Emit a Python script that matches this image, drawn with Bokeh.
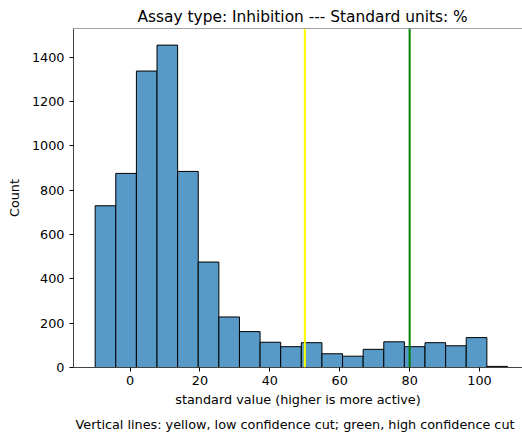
from bokeh.plotting import figure
from bokeh.models import Span, Title, FixedTicker, ColumnDataSource, Range1d
from bokeh.embed import file_html
from bokeh.resources import INLINE

# ---- data ----
bin_left = [-10.0, -4.1, 1.8, 7.7, 13.6, 19.5, 25.4, 31.3, 37.2, 43.1,
            49.0, 54.9, 60.8, 66.7, 72.6, 78.5, 84.4, 90.3, 96.2, 102.1]
bin_right = [-4.1, 1.8, 7.7, 13.6, 19.5, 25.4, 31.3, 37.2, 43.1, 49.0,
             54.9, 60.8, 66.7, 72.6, 78.5, 84.4, 90.3, 96.2, 102.1, 108.0]
counts = [730, 876, 1338, 1455, 885, 476, 228, 162, 114, 94,
          112, 62, 51, 82, 116, 94, 112, 98, 135, 5]
low_cut = 50
high_cut = 80
x_ticks = [0, 20, 40, 60, 80, 100]
y_ticks = [0, 200, 400, 600, 800, 1000, 1200, 1400]

title_text = "Assay type: Inhibition --- Standard units: %"
x_label = "standard value (higher is more active)"
y_label = "Count"
footnote = "Vertical lines: yellow, low confidence cut; green, high confidence cut"

FONT = "DejaVu Sans"
X_START, X_END = -16.2, 112.3
Y_END = 1530

p = figure(width=522, height=437, output_backend="svg", toolbar_location=None,
           x_range=Range1d(X_START, X_END), y_range=Range1d(0, Y_END),
           min_border_left=73, min_border_right=0, min_border_top=28,
           min_border_bottom=70)

src = ColumnDataSource(dict(left=bin_left, right=bin_right, top=counts,
                            bottom=[0] * len(counts)))
p.quad(left="left", right="right", top="top", bottom="bottom", source=src,
       fill_color="#5799c7", line_color="black", line_width=1)

p.add_layout(Span(location=low_cut, dimension="height", line_color="yellow", line_width=2))
p.add_layout(Span(location=high_cut, dimension="height", line_color="green", line_width=2))
p.add_layout(Span(location=Y_END, dimension="width", line_color="#444444", line_width=1))

p.grid.visible = False
p.outline_line_color = None
p.background_fill_color = "white"
p.border_fill_color = "white"

for ax in (p.xaxis[0], p.yaxis[0]):
    ax.axis_line_color = "#444444"
    ax.axis_line_width = 1
    ax.major_tick_line_color = "black"
    ax.major_tick_in = 0
    ax.major_tick_out = 4
    ax.minor_tick_line_color = None
    ax.major_label_text_font = FONT
    ax.major_label_text_font_size = "12.8px"
    ax.major_label_text_color = "black"
    ax.axis_label_text_font = FONT
    ax.axis_label_text_font_size = "12.8px"
    ax.axis_label_text_font_style = "normal"
    ax.axis_label_text_color = "black"

p.xaxis.ticker = FixedTicker(ticks=x_ticks)
p.yaxis.ticker = FixedTicker(ticks=y_ticks)
p.xaxis.axis_label = x_label
p.yaxis.axis_label = y_label
p.xaxis.major_label_standoff = 4
p.yaxis.major_label_standoff = 5
p.xaxis.axis_label_standoff = 4
p.yaxis.axis_label_standoff = 7

p.title.text = title_text
p.title.text_font = FONT
p.title.text_font_size = "15.4px"
p.title.text_font_style = "normal"
p.title.text_color = "black"
p.title.align = "left"
p.title.offset = 64
p.title.standoff = 6

fn = Title(text=footnote, align="left", offset=2, text_font=FONT,
           text_font_size="12.8px", text_font_style="normal", text_color="black")
p.add_layout(fn, "below")

open("out.html", "w").write(file_html(p, INLINE))
